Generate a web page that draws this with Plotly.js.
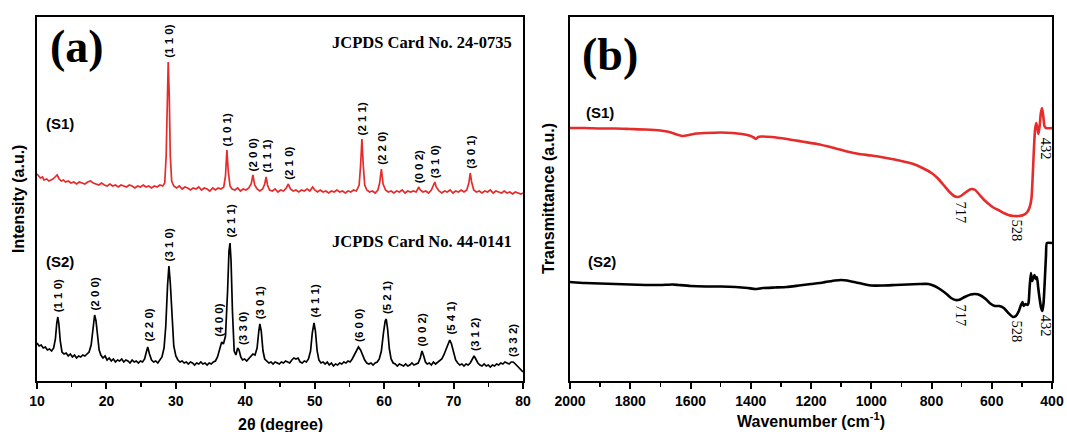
<!DOCTYPE html>
<html>
<head>
<meta charset="utf-8">
<script src="https://cdn.plot.ly/plotly-3.0.1.min.js"></script>
<style>html,body{margin:0;padding:0;background:#fff;}#chart{width:1067px;height:432px;}</style>
</head>
<body>
<div id="chart"></div>
<script>
// ---------- XRD (a) : sample S1 (red) ----------
const xrdS1X = [10.0,10.2,10.5,10.8,11.0,11.4,11.7,12.0,12.3,12.6,12.9,13.2,13.5,13.8,14.1,14.5,14.9,15.3,15.7,16.1,16.5,16.9,17.3,17.7,18.1,18.5,18.9,19.3,19.7,20.1,20.5,20.9,21.3,21.7,22.1,22.5,22.9,23.3,23.7,24.1,24.5,24.9,25.3,25.7,26.1,26.5,26.9,27.3,27.7,28.1,28.4,28.6,28.75,28.9,29.05,29.2,29.4,29.7,30.1,30.5,30.9,31.3,31.7,32.1,32.5,32.9,33.3,33.7,34.1,34.5,34.9,35.3,35.7,36.1,36.5,36.9,37.15,37.35,37.55,37.8,38.1,38.5,38.9,39.3,39.7,40.1,40.5,40.85,41.1,41.35,41.7,42.1,42.5,42.8,43.0,43.2,43.5,43.9,44.3,44.7,45.1,45.5,45.9,46.2,46.5,46.9,47.3,47.7,48.1,48.5,48.9,49.3,49.7,50.0,50.4,50.8,51.2,51.6,52.0,52.4,52.8,53.2,53.6,54.0,54.4,54.8,55.2,55.6,56.0,56.4,56.6,56.8,57.0,57.2,57.5,57.9,58.3,58.7,59.1,59.35,59.6,59.85,60.2,60.6,61.0,61.4,61.8,62.2,62.6,63.0,63.4,63.8,64.2,64.6,64.85,65.0,65.2,65.6,66.0,66.4,66.8,67.1,67.3,67.5,67.9,68.3,68.7,69.1,69.5,69.9,70.3,70.7,71.1,71.5,71.9,72.2,72.4,72.6,72.9,73.3,73.7,74.1,74.5,74.9,75.3,75.7,76.1,76.5,76.9,77.3,77.7,78.1,78.5,78.9,79.3,79.7,80.0];
const xrdS1Y = [207,205,203,204,201,202,200,201,202,204,206,202,200,201,199,200,198,199,197,199,198,197,199,200,198,197,196,198,196,195,197,195,196,194,196,195,194,196,195,193,195,194,196,194,195,193,195,194,196,195,198,225,290,319,285,225,200,195,193,195,192,194,193,191,193,192,194,191,193,192,190,193,191,193,192,194,205,231,210,195,192,191,193,190,192,191,193,197,206,196,192,190,192,197,204,196,191,190,192,189,191,190,193,197,192,190,191,189,191,190,192,190,194,191,189,191,189,190,188,190,189,191,189,190,188,190,189,191,190,196,215,242,215,196,191,189,190,188,191,198,212,197,191,189,190,188,190,189,191,188,190,189,190,189,192,194,191,189,190,188,191,195,199,194,190,188,190,189,191,188,190,189,191,189,191,198,208,199,191,189,190,188,190,189,191,188,190,189,188,190,188,189,187,189,188,187,188];

// ---------- XRD (a) : sample S2 (black) ----------
const xrdS2X = [10.0,10.3,10.6,10.9,11.2,11.5,11.8,12.1,12.4,12.65,12.85,13.0,13.15,13.35,13.6,13.9,14.2,14.5,14.8,15.1,15.4,15.7,16.0,16.3,16.6,16.9,17.2,17.5,17.8,18.05,18.3,18.5,18.7,18.95,19.2,19.5,19.8,20.1,20.4,20.7,21.0,21.3,21.6,21.9,22.2,22.5,22.8,23.1,23.4,23.7,24.0,24.3,24.6,24.9,25.2,25.5,25.75,25.95,26.2,26.5,26.8,27.1,27.4,27.7,28.0,28.3,28.55,28.8,29.0,29.2,29.45,29.7,30.0,30.3,30.6,30.9,31.2,31.5,31.8,32.1,32.4,32.7,33.0,33.3,33.6,33.9,34.2,34.5,34.8,35.1,35.4,35.7,36.0,36.3,36.6,36.85,37.15,37.45,37.65,37.8,37.95,38.15,38.4,38.65,38.9,39.1,39.35,39.6,39.9,40.2,40.5,40.8,41.1,41.4,41.7,41.95,42.1,42.3,42.55,42.8,43.1,43.4,43.7,44.0,44.3,44.6,44.9,45.2,45.5,45.8,46.1,46.4,46.7,47.0,47.3,47.6,47.9,48.2,48.5,48.8,49.1,49.4,49.65,49.9,50.1,50.35,50.6,50.9,51.2,51.5,51.8,52.1,52.4,52.7,53.0,53.3,53.6,53.9,54.2,54.5,54.8,55.1,55.4,55.7,56.0,56.3,56.6,56.9,57.2,57.5,57.8,58.1,58.4,58.7,59.0,59.3,59.6,59.9,60.15,60.3,60.5,60.75,61.0,61.3,61.6,61.9,62.2,62.5,62.8,63.1,63.4,63.7,64.0,64.3,64.6,64.9,65.2,65.45,65.7,65.95,66.2,66.5,66.8,67.1,67.4,67.7,68.0,68.3,68.6,68.9,69.2,69.45,69.7,70.0,70.3,70.6,70.9,71.2,71.5,71.8,72.1,72.4,72.7,72.95,73.2,73.5,73.8,74.1,74.4,74.7,75.0,75.3,75.6,75.9,76.2,76.5,76.8,77.1,77.4,77.7,78.0,78.3,78.6,78.9,79.2,79.5,79.8,80.0];
const xrdS2Y = [38,35,36,33,34,31,32,30,33,42,58,64,57,40,29,27,28,25,27,24,26,23,25,24,26,25,27,29,36,52,66,60,44,31,26,23,25,21,23,20,22,19,21,20,22,19,21,20,18,21,19,20,18,20,19,22,29,34,27,21,19,20,18,21,24,33,55,95,115,98,62,35,25,21,19,20,18,19,17,19,18,16,18,17,19,17,18,16,18,17,19,20,24,31,39,37,45,90,130,138,120,70,30,26,33,31,24,21,22,20,22,24,27,26,33,50,57,50,30,22,20,18,19,17,19,18,17,19,18,20,19,18,21,23,22,23,19,18,20,19,22,30,48,58,50,30,21,18,19,17,19,16,18,15,17,16,18,17,19,18,20,19,22,26,31,34,31,26,21,18,17,18,16,18,19,22,30,48,60,62,52,32,22,18,17,15,17,16,15,17,15,16,18,16,17,18,23,30,25,19,17,18,16,19,17,19,20,22,26,32,38,41,37,28,21,18,16,17,15,17,16,18,22,25,22,18,16,15,17,15,16,14,16,15,17,16,18,17,19,18,17,19,19,17,15,13,10,9];

// hkl reflections
const s1Hkl  = ["(1 1 0)","(1 0 1)","(2 0 0)","(1 1 1)","(2 1 0)","(2 1 1)","(2 2 0)","(0 0 2)","(3 1 0)","(3 0 1)"];
const s1HklX = [28.9, 37.35, 41.1, 43.0, 46.2, 56.8, 59.6, 65.0, 67.3, 72.4];
const s2Hkl  = ["(1 1 0)","(2 0 0)","(2 2 0)","(3 1 0)","(4 0 0)","(2 1 1)","(3 3 0)","(3 0 1)","(4 1 1)","(6 0 0)","(5 2 1)","(0 0 2)","(5 4 1)","(3 1 2)","(3 3 2)"];
const s2HklX = [13.0, 18.35, 26.0, 29.0, 36.1, 37.8, 39.6, 42.1, 49.9, 56.3, 60.35, 65.45, 69.5, 73.0, 78.5];

// ---------- FTIR (b) ----------
const irS1X = [2000,1950,1900,1850,1800,1750,1700,1670,1645,1625,1605,1580,1550,1500,1460,1430,1405,1390,1383,1375,1365,1330,1280,1230,1180,1130,1080,1040,1000,950,900,860,830,800,780,760,740,725,712,700,685,668,655,640,625,610,595,575,560,545,528,510,495,482,474,468,464,460,456,452,448,445,441,437,433,429,425,420,400];
const irS1Y = [253,253,252.5,252.5,252,251.5,250.5,249,246.5,245,246,247.5,248,248.5,248,247,245.5,243.5,242,244,244.5,244,242,239.5,237,233.5,229.5,227,225.5,223,220,217,213,208,203,196,189,185,184,185.5,189,192,191,186,181,177,173.5,170.5,168,166,165,165,166,169,174,183,205,232,252,258,252,247,255,268,273,265,255,253,253];
const irS2X = [2000,1950,1900,1850,1800,1750,1700,1660,1640,1600,1550,1500,1450,1410,1385,1360,1320,1280,1240,1200,1160,1120,1100,1080,1050,1020,1000,960,920,880,840,810,790,770,750,735,720,705,690,670,655,640,620,605,590,575,560,545,530,520,510,503,498,494,488,482,478,474,470,466,462,458,454,450,446,441,436,432,428,424,420,417,400];
const irS2Y = [99,98,97.5,97,96.5,96,96,96.5,96,95,94.5,94.5,94,93,92,93,93.5,94,95.5,97,98.5,100.5,101,100.5,98.5,96.5,95.5,95.5,96,96.5,97,97,95,91.5,87,83,81,81.5,84,86.5,87,86,82,77.5,75,75,73,68,64,65,70,76,79,75,77,76,78,95,108,100,103,106,102,104,94,82,73,70,78,100,125,138,138];
const irBands = ["717","528","432"];
const irBandX = [717, 528, 432];

// tick / axis texts
const xrdTitle = "2θ (degree)";
const xrdYTitle = "Intensity (a.u.)";
const irTitle = "Wavenumber (cm<sup>-1</sup>)";
const irYTitle = "Transmittance (a.u.)";

// ---------- helpers ----------
const W = 1067, H = 432;
const px = v => v / W;
const py = v => 1 - v / H;
const RED = '#e62b2b';
const sans = {family: 'Liberation Sans, Arial, sans-serif', weight: 'bold', color: '#000'};
const serif = {family: 'Liberation Serif, Times New Roman, serif', weight: 'bold', color: '#000'};

function maxNear(xs, ys, x0, w) {
  let m = -Infinity;
  for (let i = 0; i < xs.length; i++) if (Math.abs(xs[i] - x0) <= w && ys[i] > m) m = ys[i];
  return m;
}
function minNear(xs, ys, x0, w) {
  let m = Infinity;
  for (let i = 0; i < xs.length; i++) if (Math.abs(xs[i] - x0) <= w && ys[i] < m) m = ys[i];
  return m;
}

const ann = [];
s1Hkl.forEach((t, i) => ann.push({xref:'x', yref:'y', x:s1HklX[i], y:maxNear(xrdS1X, xrdS1Y, s1HklX[i], 0.35),
  text:t, textangle:-90, showarrow:false, xanchor:'center', yanchor:'bottom', yshift:2,
  font:Object.assign({size:11.5}, sans)}));
s2Hkl.forEach((t, i) => ann.push({xref:'x', yref:'y', x:s2HklX[i], y:maxNear(xrdS2X, xrdS2Y, s2HklX[i], 0.7),
  text:t, textangle:-90, showarrow:false, xanchor:'center', yanchor:'bottom', yshift:3,
  font:Object.assign({size:11.5}, sans)}));
irBands.forEach((t, i) => {
  [[irS1X, irS1Y], [irS2X, irS2Y]].forEach(([xs, ys]) => {
    ann.push({xref:'x2', yref:'y2', x:irBandX[i], y:minNear(xs, ys, irBandX[i], 15),
      text:t, textangle:90, showarrow:false, xanchor:'center', yanchor:'top', yshift:-2, xshift:4,
      font:{family:'Liberation Serif, Times New Roman, serif', size:14.5, color:'#000'}});
  });
});

// panel texts
const paperTxt = (x, y, text, font, opts) => ann.push(Object.assign({xref:'paper', yref:'paper', x:px(x), y:py(y), text, showarrow:false, xanchor:'center', yanchor:'middle', font}, opts || {}));
paperTxt(77, 46, '(a)', Object.assign({size:46}, serif));
paperTxt(610, 54, '(b)', Object.assign({size:46}, serif));
paperTxt(514, 43, 'JCPDS Card No. 24-0735', Object.assign({size:16.5}, serif), {xanchor:'right'});
paperTxt(514, 241, 'JCPDS Card No. 44-0141', Object.assign({size:16.5}, serif), {xanchor:'right'});
paperTxt(60, 123, '(S1)', Object.assign({size:15}, sans));
paperTxt(60, 261, '(S2)', Object.assign({size:15}, sans));
paperTxt(600, 112, '(S1)', Object.assign({size:15}, sans));
paperTxt(602, 261, '(S2)', Object.assign({size:15}, sans));
paperTxt(280, 424, xrdTitle, Object.assign({size:16}, sans));
paperTxt(811, 420, irTitle, Object.assign({size:16}, sans));
paperTxt(18, 199, xrdYTitle, Object.assign({size:16}, sans), {textangle:-90});
paperTxt(548, 199, irYTitle, Object.assign({size:16}, sans), {textangle:-90});

const xBase = {showline:true, mirror:true, linewidth:2, linecolor:'#000', ticks:'outside', ticklen:6, tickwidth:2,
  tickcolor:'#000', showgrid:false, zeroline:false, tickfont:Object.assign({size:14}, sans), ticklabelstandoff:0};
const yBase = {showline:true, mirror:true, linewidth:2, linecolor:'#000', ticks:'', showticklabels:false,
  showgrid:false, zeroline:false, range:[0,364], domain:[py(381), py(17)], fixedrange:true};

const data = [
  {x:xrdS1X, y:xrdS1Y, xaxis:'x', yaxis:'y', mode:'lines', line:{color:RED, width:1.7}, hoverinfo:'skip'},
  {x:xrdS2X, y:xrdS2Y, xaxis:'x', yaxis:'y', mode:'lines', line:{color:'#000', width:1.7}, hoverinfo:'skip'},
  {x:irS1X, y:irS1Y, xaxis:'x2', yaxis:'y2', mode:'lines', line:{color:RED, width:2.6, shape:'spline', smoothing:0.6}, hoverinfo:'skip'},
  {x:irS2X, y:irS2Y, xaxis:'x2', yaxis:'y2', mode:'lines', line:{color:'#000', width:2.6, shape:'spline', smoothing:0.5}, hoverinfo:'skip'}
];

const layout = {
  width:W, height:H, margin:{l:0, r:0, t:0, b:0}, paper_bgcolor:'#fff', plot_bgcolor:'#fff', showlegend:false,
  xaxis:Object.assign({}, xBase, {domain:[px(37), px(523)], range:[10,80], tick0:10, dtick:10,
    minor:{ticks:'outside', ticklen:4, tickwidth:1.5, tickcolor:'#000', dtick:5, tick0:10}, anchor:'y'}),
  yaxis:Object.assign({}, yBase, {anchor:'x'}),
  xaxis2:Object.assign({}, xBase, {domain:[px(570), px(1052)], range:[2000,400], tick0:400, dtick:200,
    minor:{ticks:'outside', ticklen:4, tickwidth:1.5, tickcolor:'#000', dtick:100, tick0:400}, anchor:'y2'}),
  yaxis2:Object.assign({}, yBase, {anchor:'x2'}),
  annotations:ann
};

Plotly.newPlot('chart', data, layout, {displayModeBar:false, staticPlot:true});
</script>
</body>
</html>
